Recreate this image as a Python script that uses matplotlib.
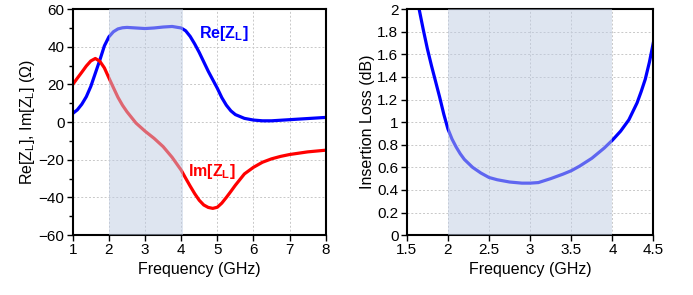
import matplotlib
matplotlib.use("Agg")
import matplotlib.pyplot as plt
from matplotlib.ticker import MultipleLocator

plt.rcParams['font.family'] = ['Liberation Sans', 'DejaVu Sans']
plt.rcParams['mathtext.fontset'] = 'custom'
plt.rcParams['mathtext.rm'] = 'Liberation Sans'
plt.rcParams['mathtext.bf'] = 'Liberation Sans:bold'

# Left panel data: load impedance vs frequency (GHz)
freq_z = [1.0, 1.125, 1.25, 1.375, 1.5, 1.625, 1.75, 1.875, 2.0, 2.125, 2.25, 2.375, 2.5,
          2.75, 3.0, 3.25, 3.5, 3.75, 4.0, 4.125, 4.25, 4.375, 4.5, 4.625, 4.75, 4.875,
          5.0, 5.125, 5.25, 5.375, 5.5, 5.75, 6.0, 6.25, 6.5, 6.75, 7.0, 7.5, 8.0]
re_z = [4.6, 6.5, 9.5, 13.5, 19.0, 26.0, 33.0, 40.5, 45.3, 48.0, 49.5, 50.1, 50.3,
        50.0, 49.7, 50.0, 50.5, 50.8, 50.0, 48.5, 45.5, 41.5, 37.0, 32.0, 27.0, 22.5,
        18.0, 13.0, 9.0, 6.0, 4.0, 2.0, 1.1, 0.7, 0.7, 1.0, 1.3, 1.9, 2.5]
im_z = [20.0, 23.3, 26.5, 29.8, 32.5, 33.8, 32.3, 28.8, 23.5, 18.3, 13.2, 9.0, 5.5,
        -0.5, -4.8, -8.6, -13.0, -18.7, -25.5, -29.8, -34.0, -38.0, -41.5, -44.0, -45.3, -45.8,
        -45.2, -43.0, -40.0, -36.8, -33.5, -27.5, -24.0, -21.3, -19.5, -18.2, -17.2, -15.8, -14.9]

# Right panel data: insertion loss (dB) vs frequency (GHz)
freq_il = [1.65, 1.7, 1.75, 1.8, 1.85, 1.9, 1.95, 2.0, 2.05, 2.1, 2.15, 2.2, 2.3, 2.4, 2.5,
           2.6, 2.75, 2.9, 3.0, 3.1, 3.25, 3.4, 3.5, 3.6, 3.75, 3.9, 4.0, 4.1, 4.2, 4.3,
           4.35, 4.4, 4.45, 4.5]
il_db = [2.0, 1.82, 1.65, 1.5, 1.36, 1.22, 1.07, 0.94, 0.85, 0.78, 0.72, 0.67, 0.6, 0.55, 0.51,
         0.49, 0.47, 0.46, 0.46, 0.465, 0.5, 0.54, 0.57, 0.61, 0.68, 0.77, 0.84, 0.92, 1.02,
         1.17, 1.27, 1.38, 1.53, 1.71]

band_left = (2.0, 4.05)
band_right = (2.0, 4.0)

fs_tick = 11
fs_lab = 11.5
fig = plt.figure(figsize=(6.93, 2.95), dpi=100)
ax1 = fig.add_axes([0.105, 0.203, 0.365, 0.766])
ax2 = fig.add_axes([0.587, 0.203, 0.356, 0.766])

span_color = (0.75, 0.80, 0.89)
grid_kw = dict(color='#c8c8c8', linestyle=(0, (2, 2)), linewidth=0.7)

for ax in (ax1, ax2):
    ax.set_axisbelow(True)
    ax.grid(True, **grid_kw)
    for s in ax.spines.values():
        s.set_linewidth(1.5)
    ax.tick_params(axis='both', which='major', direction='out', length=4, width=1,
                   labelsize=fs_tick, pad=2)
    ax.tick_params(axis='both', which='minor', direction='out', length=3, width=1)

# Left
ax1.plot(freq_z, re_z, color='#0000ff', lw=2.3, zorder=2, solid_joinstyle='round')
ax1.plot(freq_z, im_z, color='#ff0000', lw=2.3, zorder=2, solid_joinstyle='round')
ax1.axvspan(*band_left, color=span_color, alpha=0.5, lw=0, zorder=3)
ax1.set_xlim(1, 8)
ax1.set_ylim(-60, 60)
ax1.xaxis.set_major_locator(MultipleLocator(1))
ax1.yaxis.set_major_locator(MultipleLocator(20))
ax1.yaxis.set_minor_locator(MultipleLocator(10))
ax1.set_xlabel('Frequency (GHz)', fontsize=fs_lab, labelpad=3)
ax1.set_ylabel(r'Re[Z$_\mathregular{L}$], Im[Z$_\mathregular{L}$] ($\Omega$)', fontsize=fs_lab, labelpad=1)
ax1.text(4.5, 47, r'Re[Z$_\mathbf{L}$]', color='#0000ff', fontsize=fs_lab, fontweight='bold',
         ha='left', va='center', zorder=4)
ax1.text(4.18, -26, r'Im[Z$_\mathbf{L}$]', color='#ff0000', fontsize=fs_lab, fontweight='bold',
         ha='left', va='center', zorder=4)

# Right
ax2.plot(freq_il, il_db, color='#0000ff', lw=2.3, zorder=2, solid_joinstyle='round')
ax2.axvspan(*band_right, color=span_color, alpha=0.5, lw=0, zorder=3)
ax2.set_xlim(1.5, 4.5)
ax2.set_ylim(0, 2)
ax2.set_xticks([1.5, 2, 2.5, 3, 3.5, 4, 4.5])
ax2.set_xticklabels(['1.5', '2', '2.5', '3', '3.5', '4', '4.5'])
ax2.set_yticks([0, 0.2, 0.4, 0.6, 0.8, 1, 1.2, 1.4, 1.6, 1.8, 2])
ax2.set_yticklabels(['0', '0.2', '0.4', '0.6', '0.8', '1', '1.2', '1.4', '1.6', '1.8', '2'])
ax2.set_xlabel('Frequency (GHz)', fontsize=fs_lab, labelpad=3)
ax2.set_ylabel('Insertion Loss (dB)', fontsize=fs_lab, labelpad=2)

fig.savefig('out.png', dpi=100)
